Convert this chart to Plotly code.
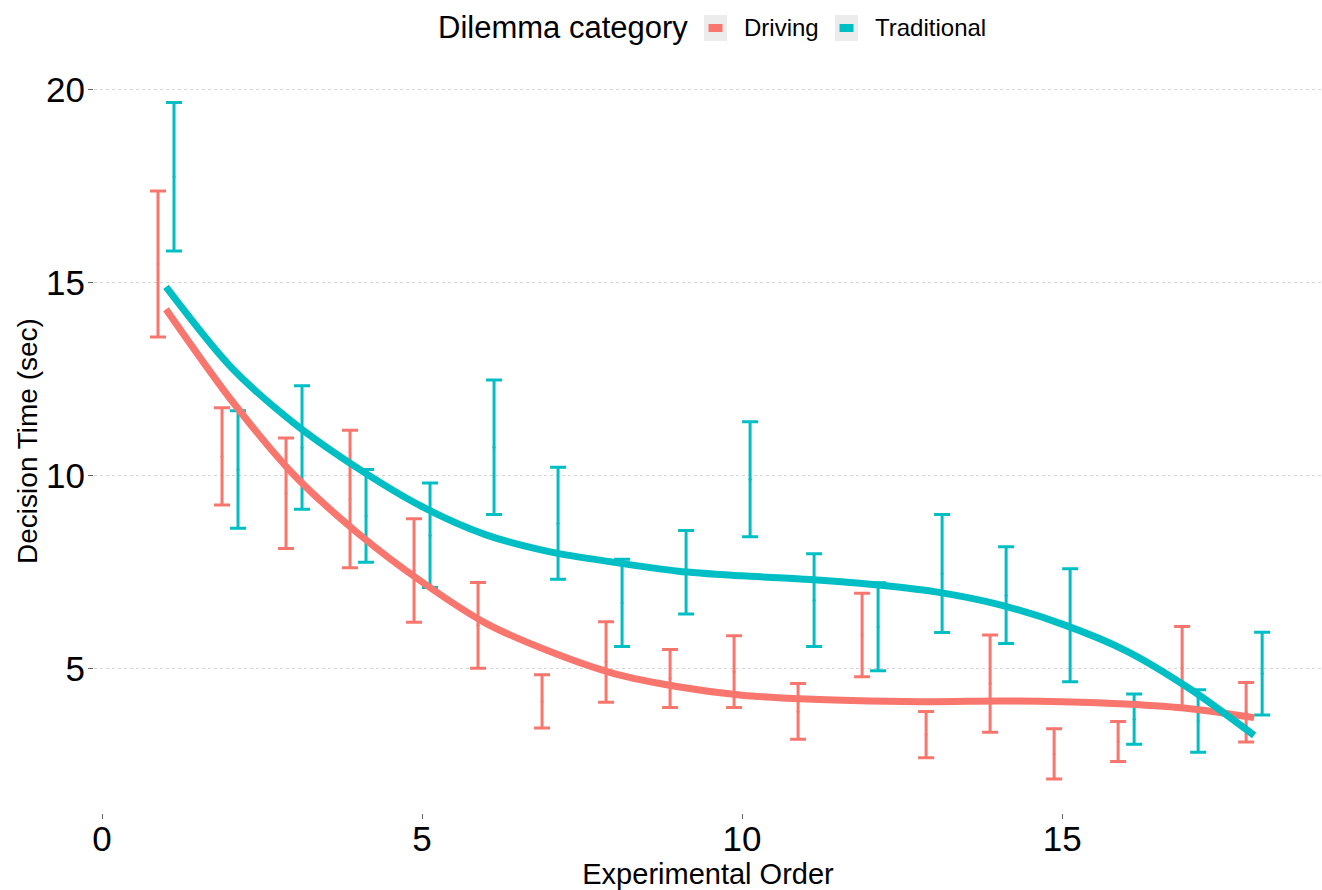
import numpy as np
import plotly.graph_objects as go

# Experimental order (position of the dilemma in the session)
order = list(range(1, 19))

# Mean decision time (sec) and half-width of the error bar, per category
driving_mean = [15.48, 10.50, 9.55, 9.40, 7.55, 6.13, 4.16, 5.18, 4.75,
                4.93, 3.90, 5.88, 3.30, 4.62, 2.80, 3.12, 5.03, 3.88]
driving_err = [1.89, 1.26, 1.43, 1.78, 1.34, 1.11, 0.69, 1.04, 0.75,
               0.93, 0.72, 1.08, 0.60, 1.26, 0.65, 0.52, 1.07, 0.77]

traditional_mean = [17.74, 10.16, 10.73, 8.96, 8.46, 10.74, 8.77, 6.71, 7.50,
                    9.91, 6.78, 6.09, 7.47, 6.91, 6.13, 3.70, 3.65, 4.88]
traditional_err = [1.92, 1.52, 1.60, 1.20, 1.35, 1.74, 1.45, 1.13, 1.08,
                   1.49, 1.20, 1.14, 1.53, 1.25, 1.46, 0.65, 0.81, 1.07]

# Smoothed trend of decision time at each position
driving_smooth = [14.31, 12.00, 10.02, 8.51, 7.25, 6.18, 5.45, 4.88, 4.54,
                  4.32, 4.22, 4.17, 4.15, 4.17, 4.15, 4.09, 3.97, 3.74]
traditional_smooth = [14.89, 12.84, 11.36, 10.19, 9.20, 8.47, 8.03, 7.76, 7.53,
                      7.41, 7.32, 7.19, 7.00, 6.67, 6.16, 5.47, 4.48, 3.28]

categories = ["Driving", "Traditional"]
colors = {"Driving": "#F8766D", "Traditional": "#00BFC4"}
dodge = {"Driving": -0.125, "Traditional": 0.125}

FONT = "Liberation Sans, Arial, sans-serif"

series = {
    "Driving": (driving_mean, driving_err, driving_smooth),
    "Traditional": (traditional_mean, traditional_err, traditional_smooth),
}

fig = go.Figure()

# Error bars with mean points, dodged sideways by category
for cat in categories:
    mean, err, _ = series[cat]
    xs = np.array(order, dtype=float) + dodge[cat]
    fig.add_trace(go.Scatter(
        x=xs, y=mean, mode="markers", name=cat, showlegend=False,
        marker=dict(size=3, color=colors[cat]),
        error_y=dict(type="data", array=err, visible=True,
                     color=colors[cat], thickness=3, width=8),
        hoverinfo="skip",
    ))

# Smoothed trend lines
for cat in categories:
    _, _, smooth = series[cat]
    fig.add_trace(go.Scatter(
        x=order, y=smooth, mode="lines", name=cat, showlegend=False,
        line=dict(color=colors[cat], width=7, shape="spline", smoothing=0.8),
        hoverinfo="skip",
    ))

# Legend drawn at the top: title, grey key boxes and coloured keys
L, W = 94, 1228   # plot-area left and width in px
B, H = 813, 744   # plot-area bottom and height in px


def px_x(p):
    return (p - L) / W


def px_y(p):
    return (B - p) / H


shapes = []
annotations = [dict(
    x=px_x(690), y=px_y(28), xref="paper", yref="paper",
    text="Dilemma category", showarrow=False, xanchor="right", yanchor="middle",
    font=dict(family=FONT, size=31, color="black"),
)]
key_left = {"Driving": 704, "Traditional": 835}
label_left = {"Driving": 742, "Traditional": 873}
for cat in categories:
    k = key_left[cat]
    shapes.append(dict(type="rect", xref="paper", yref="paper",
                       x0=px_x(k), x1=px_x(k + 23), y0=px_y(41), y1=px_y(15),
                       fillcolor="#ececec", line=dict(width=0), layer="above"))
    shapes.append(dict(type="rect", xref="paper", yref="paper",
                       x0=px_x(k + 4.5), x1=px_x(k + 18.5), y0=px_y(32), y1=px_y(24),
                       fillcolor=colors[cat], line=dict(width=0), layer="above"))
    annotations.append(dict(
        x=px_x(label_left[cat]), y=px_y(28), xref="paper", yref="paper",
        text=cat, showarrow=False, xanchor="left", yanchor="middle",
        font=dict(family=FONT, size=24, color="black"),
    ))

fig.update_layout(
    width=1322, height=890,
    margin=dict(l=L, r=0, t=69, b=890 - B, autoexpand=False),
    paper_bgcolor="white", plot_bgcolor="white",
    font=dict(family=FONT, color="black"),
    shapes=shapes, annotations=annotations,
    showlegend=False,
)

fig.update_xaxes(
    range=[-0.125, 19.06], tickvals=[0, 5, 10, 15],
    showgrid=False, zeroline=False, showline=False,
    ticks="outside", ticklen=5, tickwidth=1, tickcolor="#666666",
    ticklabelstandoff=-10,
    tickfont=dict(family=FONT, size=35, color="black"),
    title=dict(text="Experimental Order", standoff=0,
               font=dict(family=FONT, size=29, color="black")),
    automargin=False,
)
fig.update_yaxes(
    range=[1.27, 20.53], tickvals=[5, 10, 15, 20],
    showgrid=True, gridcolor="#d6d6d6", gridwidth=1, griddash="dot",
    zeroline=False, showline=False,
    ticks="outside", ticklen=5, tickwidth=1, tickcolor="#666666",
    ticklabelstandoff=-4,
    tickfont=dict(family=FONT, size=35, color="black"),
    title=dict(text="Decision Time (sec)", standoff=0,
               font=dict(family=FONT, size=28, color="black")),
    automargin=False,
)

fig.write_html("out.html")
